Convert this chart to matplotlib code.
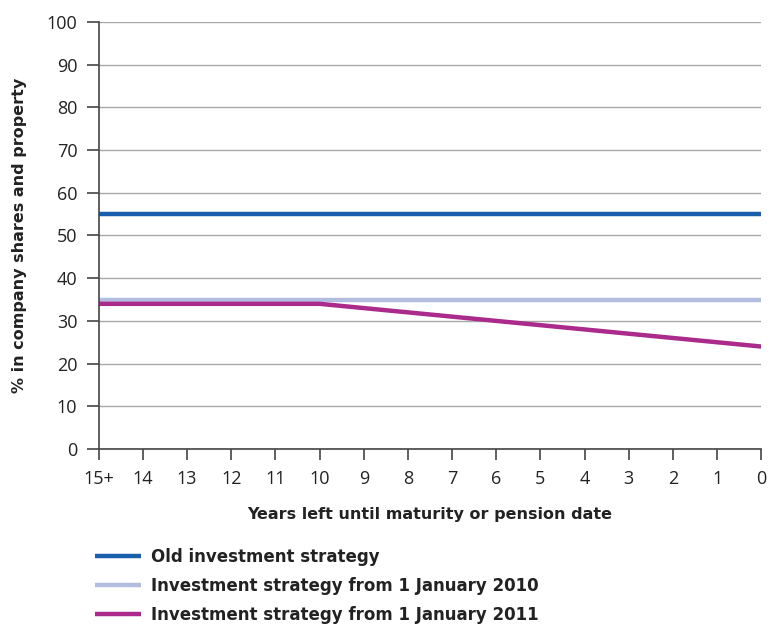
import matplotlib.pyplot as plt
from matplotlib import rcParams

rcParams['font.family'] = ['Open Sans', 'DejaVu Sans']

years = ['15+', '14', '13', '12', '11', '10', '9', '8', '7', '6', '5', '4', '3', '2', '1', '0']
old_strategy = [55] * 16
strategy_2010 = [35] * 16
strategy_2011 = [34, 34, 34, 34, 34, 34, 33, 32, 31, 30, 29, 28, 27, 26, 25, 24]

fig = plt.figure(figsize=(7.72, 6.25), dpi=100)
ax = fig.add_axes([0.128, 0.2816, 0.858, 0.6832])

x = range(len(years))
ax.plot(x, old_strategy, color='#1a5fad', lw=3.2, label='Old investment strategy', solid_capstyle='butt')
ax.plot(x, strategy_2010, color='#b3bde0', lw=3.2, label='Investment strategy from 1 January 2010', solid_capstyle='butt')
ax.plot(x, strategy_2011, color='#aa2b8c', lw=3.2, label='Investment strategy from 1 January 2011', solid_capstyle='butt')

ax.set_xlim(0, len(years) - 1)
ax.set_ylim(0, 100)
ax.set_yticks(range(0, 101, 10))
ax.set_xticks(list(x))
ax.set_xticklabels(years)
ax.grid(axis='y', color='#a8a8a8', lw=1)
ax.set_axisbelow(True)
for s in ['top', 'right']:
    ax.spines[s].set_visible(False)
for s in ['left', 'bottom']:
    ax.spines[s].set_color('#444444')
    ax.spines[s].set_linewidth(1.2)
ax.tick_params(axis='y', length=9, width=1.2, color='#444444', labelsize=13, labelcolor='#222222', pad=6.5)
ax.tick_params(axis='x', length=8, width=1.2, color='#444444', labelsize=13, labelcolor='#222222', pad=7)

bold = {'family': 'DejaVu Sans', 'weight': 'bold', 'size': 11.5}
ax.set_ylabel('% in company shares and property', fontdict=bold, color='#222222', labelpad=14)
ax.set_xlabel('Years left until maturity or pension date', fontdict=bold, color='#222222', labelpad=14)

fig.legend(loc='upper left', bbox_to_anchor=(0.123, 0.124), frameon=False, handlelength=2.75,
           prop={'family': 'DejaVu Sans', 'weight': 'bold', 'size': 12}, labelspacing=0.68,
           borderaxespad=0, borderpad=0, handletextpad=0.6, labelcolor='#222222')

plt.savefig('out.png', dpi=100)
plt.close(fig)
